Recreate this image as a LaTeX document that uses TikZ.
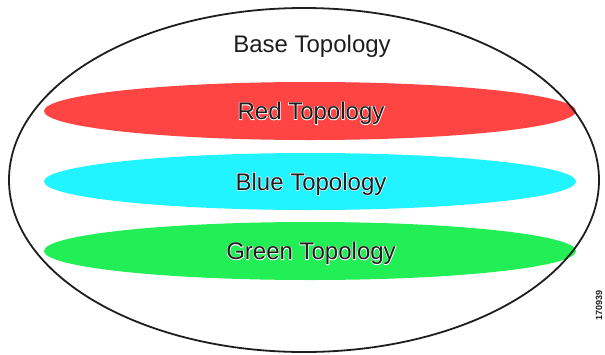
\documentclass[tikz,border=0pt]{standalone}
\usepackage{fontspec}
\setmainfont{Liberation Sans}
% a fattened face, used in white behind a label as its outline
\newfontfamily\halofont[FakeBold=5]{Liberation Sans}
\definecolor{redband}{HTML}{FF4444}
\definecolor{blueband}{HTML}{22F4FF}
\definecolor{greenband}{HTML}{22EE55}
\definecolor{ink}{HTML}{1E1E1E}
\tikzset{
  band/.style={fill=#1, draw=none},
  title/.style={font=\fontsize{24}{28}\selectfont, text=ink, anchor=base, inner sep=0pt},
  halo/.style={title, font=\halofont\fontsize{24}{28}\selectfont, text=white},
}
% label with a thin white outline around the glyphs
\newcommand{\haloed}[3]{%
  \node[halo] at (#1) {#3};
  \node[title] (#2) at (#1) {#3};
}
\begin{document}
\begin{tikzpicture}[x=1pt,y=-1pt]
  \useasboundingbox (0,0) rectangle (605,354);
  % coloured topologies
  \fill[band=redband]   (310,111)   ellipse [x radius=266, y radius=29];
  \fill[band=blueband]  (310,181.5) ellipse [x radius=266, y radius=28.5];
  \fill[band=greenband] (310,251)   ellipse [x radius=266, y radius=29];
  \coordinate (rpos) at (311,119.5);
  \coordinate (bpos) at (311,190);
  \coordinate (gpos) at (311,259.5);
  \haloed{rpos}{red}{Red Topology}
  \haloed{bpos}{blue}{Blue Topology}
  \haloed{gpos}{green}{Green Topology}
  % base topology outline
  \draw[line width=1.8pt, ink] (304,180) ellipse [x radius=295, y radius=172];
  \node[title] (base) at (312,52.5) {Base Topology};
  % figure number
  \node[rotate=90, font=\fontsize{9}{10}\selectfont\bfseries, text=ink, inner sep=0pt] (fignum) at (599,305) {170939};
\end{tikzpicture}
\end{document}
